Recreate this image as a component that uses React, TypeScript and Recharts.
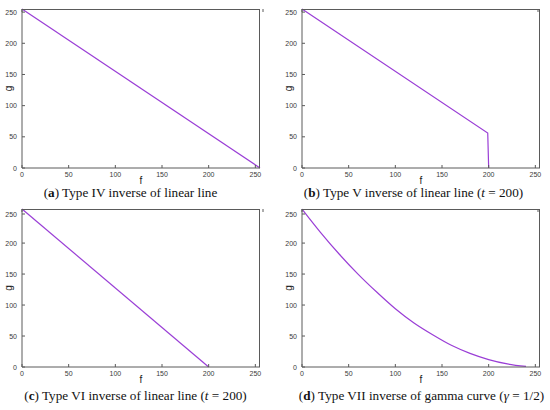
import React from "react";
import { LineChart, Line, XAxis, YAxis } from "recharts";

// f -> g transfer curves
const fA = [0, 255];
const gA = [255, 0];

const fB = [0, 199, 200];
const gB = [255, 56, 0];

const fC = [0, 200];
const gC = [255, 0];

const fD = [0, 20, 40, 60, 80, 100, 120, 140, 160, 180, 200, 220, 240];
const gD = [255, 217, 182, 150, 121, 94, 71, 52, 35, 22, 12, 5, 1];

const axisTicks = [0, 50, 100, 150, 200, 250];

const FRAME = "#5a5a5a";
const TICK_TEXT = "#3a3a3a";
const PURPLE = "#9a3ed6";
const TICK_FONT = "'Liberation Sans', Arial, sans-serif";
const PANEL_W = 275;
const PANEL_H = 205;

const zip = (fs: number[], gs: number[]) => fs.map((f, i) => ({ f, g: gs[i] }));

function BottomTick(props: any) {
  const { x, y, payload } = props;
  return (
    <g>
      <line x1={x} y1={y} x2={x} y2={y - 3} stroke={FRAME} />
      <text x={x} y={y + 8.5} textAnchor="middle" fontSize={7} fill={TICK_TEXT} fontFamily={TICK_FONT}>
        {payload.value}
      </text>
    </g>
  );
}

function LeftTick(props: any) {
  const { x, y, payload } = props;
  return (
    <g>
      <line x1={x} y1={y} x2={x + 3} y2={y} stroke={FRAME} />
      <text x={x - 5} y={y + 2.5} textAnchor="end" fontSize={7} fill={TICK_TEXT} fontFamily={TICK_FONT}>
        {payload.value}
      </text>
    </g>
  );
}

// mirrored ticks on the top and right borders, no labels
function TopTick(props: any) {
  const { x, y } = props;
  return <line x1={x} y1={y} x2={x} y2={y + 3} stroke={FRAME} />;
}

function RightTick(props: any) {
  const { x, y } = props;
  return <line x1={x} y1={y} x2={x - 3} y2={y} stroke={FRAME} />;
}

interface PanelProps {
  data: { f: number; g: number }[];
  left: number;
  top: number;
  margin: { top: number; right: number; bottom: number; left: number };
  curved?: boolean;
}

// axes take 1px each (a 0px axis is not drawn), so margins are 1px smaller than the frame offsets
function Panel({ data, left, top, margin, curved }: PanelProps) {
  const plotLeft = margin.left + 1;
  const plotTop = margin.top + 1;
  const plotW = PANEL_W - plotLeft - (margin.right + 1);
  const plotH = PANEL_H - plotTop - (margin.bottom + 1);
  return (
    <div style={{ position: "absolute", left, top, width: PANEL_W, height: PANEL_H }}>
      <LineChart width={PANEL_W} height={PANEL_H} data={data} margin={margin}>
        <XAxis
          dataKey="f"
          type="number"
          domain={[0, 255]}
          ticks={axisTicks}
          height={1}
          tickSize={0}
          tickMargin={0}
          stroke={FRAME}
          tick={(p: any) => <BottomTick {...p} />}
          label={{ value: "f", position: "bottom", offset: 8, fontSize: 10, fill: "#222", fontFamily: TICK_FONT }}
        />
        <XAxis
          xAxisId="top"
          orientation="top"
          type="number"
          domain={[0, 255]}
          ticks={axisTicks}
          height={1}
          tickSize={0}
          tickMargin={0}
          axisLine={false}
          tick={(p: any) => <TopTick {...p} />}
        />
        <YAxis
          type="number"
          domain={[0, 255]}
          ticks={axisTicks}
          width={1}
          tickSize={0}
          tickMargin={0}
          stroke={FRAME}
          tick={(p: any) => <LeftTick {...p} />}
          label={{ value: "g", angle: -90, position: "left", offset: 13, textAnchor: "middle", fontSize: 10, fill: "#222", fontFamily: TICK_FONT }}
        />
        <YAxis
          yAxisId="right"
          orientation="right"
          type="number"
          domain={[0, 255]}
          ticks={axisTicks}
          width={1}
          tickSize={0}
          tickMargin={0}
          axisLine={false}
          tick={(p: any) => <RightTick {...p} />}
        />
        <Line
          dataKey="g"
          type={curved ? "monotone" : "linear"}
          stroke={PURPLE}
          strokeWidth={1.2}
          dot={false}
          isAnimationActive={false}
        />
      </LineChart>
      {/* top and right borders of the plot frame */}
      <div
        style={{
          position: "absolute",
          left: plotLeft,
          top: plotTop,
          width: plotW,
          height: plotH,
          boxSizing: "border-box",
          borderTop: `1px solid ${FRAME}`,
          borderRight: `1px solid ${FRAME}`,
          pointerEvents: "none",
        }}
      />
    </div>
  );
}

const captionStyle: React.CSSProperties = {
  position: "absolute",
  width: 275,
  textAlign: "center",
  fontFamily: "'Liberation Serif', 'Times New Roman', serif",
  fontSize: 13.2,
  lineHeight: "12px",
  color: "#111",
  whiteSpace: "nowrap",
};

export default function App() {
  return (
    <div style={{ position: "absolute", left: 0, top: 0, width: 550, height: 410, background: "#fff", overflow: "hidden" }}>
      <Panel data={zip(fA, gA)} left={0} top={0} margin={{ top: 8, right: 14, bottom: 36, left: 21 }} />
      <Panel data={zip(fB, gB)} left={275} top={0} margin={{ top: 8, right: 9, bottom: 36, left: 26 }} />
      <Panel data={zip(fC, gC)} left={0} top={205} margin={{ top: 3, right: 14, bottom: 42, left: 21 }} />
      <Panel data={zip(fD, gD)} left={275} top={205} margin={{ top: 3, right: 9, bottom: 42, left: 26 }} curved />

      <div style={{ ...captionStyle, left: -7, top: 187 }}>
        (<b>a</b>) Type IV inverse of linear line
      </div>
      <div style={{ ...captionStyle, left: 276, top: 187 }}>
        (<b>b</b>) Type V inverse of linear line (<i>t</i> = 200)
      </div>
      <div style={{ ...captionStyle, left: -2, top: 390 }}>
        (<b>c</b>) Type VI inverse of linear line (<i>t</i> = 200)
      </div>
      <div style={{ ...captionStyle, left: 284, top: 390 }}>
        (<b>d</b>) Type VII inverse of gamma curve (<i>γ</i> = 1/2)
      </div>
    </div>
  );
}
